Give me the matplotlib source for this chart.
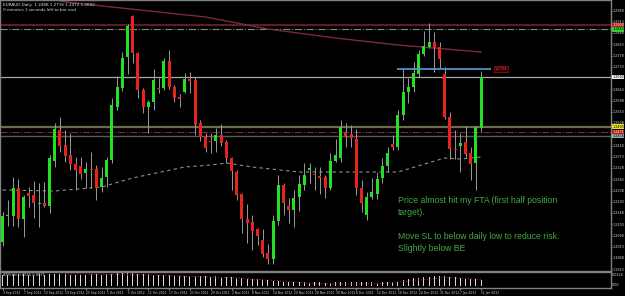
import matplotlib.pyplot as plt
import matplotlib.transforms as mtransforms
from matplotlib.patches import Rectangle

# daily candles, 3 Sep 2012 .. 11 Jan 2013
opens = [1.2032, 1.2136, 1.2136, 1.2248, 1.2124, 1.2228, 1.2220, 1.2184, 1.2188, 1.2176,
         1.2356, 1.2480, 1.2420, 1.2380, 1.2344, 1.2336, 1.2308, 1.2324, 1.2324, 1.2252,
         1.2292, 1.2360, 1.2572, 1.2648, 1.2772, 1.2936, 1.2788, 1.2640, 1.2572, 1.2592,
         1.2648, 1.2648, 1.2756, 1.2652, 1.2612, 1.2632, 1.2684, 1.2680, 1.2508, 1.2452,
         1.2436, 1.2436, 1.2460, 1.2432, 1.2368, 1.2312, 1.2224, 1.2124, 1.2112, 1.2084,
         1.2040, 1.1988, 1.1964, 1.2116, 1.2260, 1.2176, 1.2160, 1.2212, 1.2260, 1.2320,
         1.2304, 1.2296, 1.2292, 1.2248, 1.2356, 1.2368, 1.2472, 1.2464, 1.2444, 1.2248,
         1.2140, 1.2212, 1.2224, 1.2288, 1.2336, 1.2424, 1.2412, 1.2540, 1.2632, 1.2652,
         1.2704, 1.2784, 1.2812, 1.2832, 1.2812, 1.2704, 1.2532, 1.2404, 1.2416, 1.2432,
         1.2388, 1.2348, 1.2488]
highs = [1.2152, 1.2200, 1.2292, 1.2284, 1.2220, 1.2252, 1.2276, 1.2268, 1.2272, 1.2380,
         1.2508, 1.2532, 1.2480, 1.2468, 1.2372, 1.2372, 1.2352, 1.2392, 1.2340, 1.2332,
         1.2372, 1.2608, 1.2696, 1.2792, 1.2904, 1.2940, 1.2792, 1.2648, 1.2600, 1.2724,
         1.2688, 1.2768, 1.2800, 1.2660, 1.2624, 1.2708, 1.2712, 1.2692, 1.2520, 1.2468,
         1.2468, 1.2488, 1.2504, 1.2440, 1.2372, 1.2320, 1.2228, 1.2184, 1.2140, 1.2088,
         1.2084, 1.2024, 1.2140, 1.2300, 1.2268, 1.2208, 1.2240, 1.2300, 1.2348, 1.2348,
         1.2332, 1.2332, 1.2300, 1.2388, 1.2444, 1.2520, 1.2508, 1.2500, 1.2484, 1.2280,
         1.2232, 1.2288, 1.2312, 1.2368, 1.2412, 1.2460, 1.2560, 1.2724, 1.2688, 1.2752,
         1.2800, 1.2876, 1.2908, 1.2872, 1.2832, 1.2732, 1.2552, 1.2480, 1.2468, 1.2496,
         1.2412, 1.2496, 1.2716]
lows = [1.2016, 1.2096, 1.2096, 1.2092, 1.2052, 1.2172, 1.2128, 1.2092, 1.2172, 1.2148,
        1.2332, 1.2392, 1.2352, 1.2320, 1.2240, 1.2284, 1.2248, 1.2248, 1.2200, 1.2232,
        1.2252, 1.2348, 1.2560, 1.2636, 1.2704, 1.2748, 1.2608, 1.2548, 1.2468, 1.2560,
        1.2628, 1.2640, 1.2644, 1.2592, 1.2572, 1.2628, 1.2628, 1.2460, 1.2436, 1.2392,
        1.2388, 1.2392, 1.2416, 1.2348, 1.2240, 1.2200, 1.2068, 1.2028, 1.2000, 1.2020,
        1.1972, 1.1944, 1.1944, 1.2100, 1.2140, 1.2108, 1.2092, 1.2156, 1.2240, 1.2268,
        1.2240, 1.2224, 1.2208, 1.2240, 1.2352, 1.2352, 1.2412, 1.2412, 1.2220, 1.2152,
        1.2120, 1.2204, 1.2204, 1.2268, 1.2312, 1.2400, 1.2400, 1.2520, 1.2588, 1.2632,
        1.2692, 1.2776, 1.2808, 1.2712, 1.2728, 1.2524, 1.2364, 1.2364, 1.2312, 1.2372,
        1.2280, 1.2240, 1.2472]
closes = [1.2136, 1.2140, 1.2248, 1.2124, 1.2212, 1.2216, 1.2188, 1.2188, 1.2176, 1.2368,
          1.2484, 1.2416, 1.2376, 1.2344, 1.2320, 1.2304, 1.2324, 1.2320, 1.2248, 1.2288,
          1.2360, 1.2580, 1.2652, 1.2768, 1.2896, 1.2788, 1.2640, 1.2572, 1.2592, 1.2680,
          1.2644, 1.2756, 1.2652, 1.2608, 1.2604, 1.2684, 1.2676, 1.2500, 1.2452, 1.2408,
          1.2432, 1.2460, 1.2428, 1.2368, 1.2316, 1.2220, 1.2124, 1.2108, 1.2076, 1.2056,
          1.1984, 1.1964, 1.2116, 1.2260, 1.2188, 1.2160, 1.2208, 1.2264, 1.2300, 1.2328,
          1.2300, 1.2288, 1.2248, 1.2356, 1.2380, 1.2492, 1.2456, 1.2448, 1.2248, 1.2188,
          1.2212, 1.2232, 1.2284, 1.2336, 1.2388, 1.2412, 1.2540, 1.2632, 1.2652, 1.2708,
          1.2784, 1.2816, 1.2832, 1.2808, 1.2764, 1.2532, 1.2404, 1.2400, 1.2428, 1.2384,
          1.2344, 1.2492, 1.2692]

date_labels = ["3 Sep 2012", "7 Sep 2012", "13 Sep 2012", "19 Sep 2012", "25 Sep 2012",
               "1 Oct 2012", "5 Oct 2012", "11 Oct 2012", "17 Oct 2012", "23 Oct 2012",
               "29 Oct 2012", "2 Nov 2012", "8 Nov 2012", "14 Nov 2012", "20 Nov 2012",
               "26 Nov 2012", "30 Nov 2012", "6 Dec 2012", "12 Dec 2012", "18 Dec 2012",
               "24 Dec 2012", "31 Dec 2012", "7 Jan 2013", "11 Jan 2013"]
date_label_idx = list(range(0, 93, 4))

# moving averages (bar index, price)
ma_slow_idx = [8, 12, 39, 51, 64, 76, 92]
ma_slow = [1.3012, 1.2992, 1.2932, 1.2884, 1.2848, 1.2820, 1.2792]
ma_fast_idx = [0, 10, 19, 25, 35, 40, 43, 48, 57, 67, 76, 85, 88, 92]
ma_fast = [1.2240, 1.2236, 1.2252, 1.2288, 1.2332, 1.2340, 1.2348, 1.2332,
           1.2312, 1.2312, 1.2312, 1.2368, 1.2364, 1.2372]

# horizontal levels
res_line = 1.2900
res_dash = 1.2883
sup_olive = 1.2493
sup_dash = 1.2471
sup_gray = 1.2456
fta_level = 1.2723

# lower indicator window
ind_vals = [115, 112, 118, 116, 120, 110, 114, 117, 112, 118,
            120, 118, 116, 115, 112, 110, 114, 116, 118, 115,
            120, 125, 128, 130, 126, 128, 124, 120, 118, 115,
            112, 110, 108, 110, 105, 102, 100, 105, 100, 98,
            95, 96, 92, 90, 88, 85, 80, 75, 70, 68,
            62, 58, 55, 50, 45, 42, 40, 38, 36, 35,
            38, 36, 34, 35, 38, 40, 38, 40, 42, 40,
            38, 36, 35, 36, 38, 36, 45, 60, 70, 78,
            85, 92, 95, 98, 100, 102, 95, 88, 80, 75,
            70, 68, 65]
ind_ma_idx = [12, 30, 45, 55, 61, 73, 85, 92]
ind_ma = [122, 108, 80, 45, 20, 25, 85, 68]

bull = "#22e022"
bear = "#e8221c"
wick = "#9a9a9a"
grid = "#808080"

W, H = 625, 296
fig = plt.figure(figsize=(W / 100, H / 100), dpi=100, facecolor="black")
ax = fig.add_axes([0, 1 - 271 / H, 611 / W, 271 / H], facecolor="black")
ind = fig.add_axes([0, 8 / H, 611 / W, 16 / H], facecolor="black", sharex=ax)

# candles
for i, (o, h, l, c) in enumerate(zip(opens, highs, lows, closes)):
    col = bull if c >= o else bear
    ax.vlines(i, l, h, color=wick, lw=0.7, zorder=3)
    body = max(abs(c - o), 0.0004)
    ax.add_patch(Rectangle((i - 0.3, min(o, c)), 0.6, body, fc=col, ec="none", zorder=4))

# lines
ax.axhline(res_line, color="#6b1f2a", lw=1.3, zorder=2)
ax.axhline(res_dash, color="#7f8f80", lw=0.8, ls="-.", zorder=2)
ax.axhline(closes[-1], color="#a8a8a8", lw=0.9, zorder=2)
ax.axhline(sup_olive, color="#6e6a4c", lw=1.6, zorder=2)
ax.axhline(sup_dash, color="#7a2a3a", lw=0.8, ls="-.", zorder=2)
ax.axhline(sup_gray, color="#5a5a5a", lw=1.0, zorder=2)
ax.plot(ma_slow_idx, ma_slow, color="#7a2a3c", lw=1.0, zorder=2)
ax.plot(ma_fast_idx, ma_fast, color="#8a948a", lw=0.8, ls=(0, (3, 3)), zorder=2)
ax.hlines(fta_level, 75.8, 93.9, color="#5a9ad8", lw=1.2, zorder=5)
ax.text(94.7, fta_level, f"{fta_level:.4f}", fontsize=2.6, color="#ff5050", va="center",
        bbox=dict(fc="#300000", ec="#a01010", lw=0.5, pad=0.6), zorder=6)

ax.set_xlim(-2.7 / 5.2, (611 - 2.7) / 5.2)
ax.set_ylim(1.3000 - 0.0004 * 271, 1.3000)

# right price scale
ticks = [1.2958 - 0.0045 * k for k in range(24)]
ax.yaxis.tick_right()
ax.set_yticks(ticks)
ax.set_yticklabels([f"{t:.4f}" for t in ticks])
ax.tick_params(axis="y", labelsize=2.4, colors="#d8d8d8", length=1.0, pad=0.5, width=0.5)
ax.tick_params(axis="x", bottom=False, labelbottom=False)
for s in ax.spines.values():
    s.set_color(grid)
    s.set_linewidth(1.0)

trans = mtransforms.blended_transform_factory(ax.transAxes, ax.transData)
for price, fc, tc in [(res_line, "#c01818", "white"), (res_dash, "#30d030", "black"),
                      (closes[-1], "#f0f0f0", "black"), (sup_olive, "#e8e020", "black"),
                      (sup_dash, "#c01818", "white"), (sup_gray, "#8fb0b0", "black")]:
    ax.text(1.002, price, f"{price:.4f}", transform=trans, fontsize=2.4, color=tc,
            va="center", ha="left", clip_on=False,
            bbox=dict(fc=fc, ec="none", pad=0.3))

# header text
ax.text(0.005, 0.988, f"EURAUD,Daily  {opens[-1]:.4f} {highs[-1]:.4f} {lows[-1]:.4f} {closes[-1]:.4f}",
        transform=ax.transAxes, fontsize=3, color="#e0e0e0", va="top")
ax.text(0.005, 0.97, "0 minutes 1 seconds left to bar end",
        transform=ax.transAxes, fontsize=3, color="#e0e0e0", va="top")

# comment
ax.text(76.0, 1.2214,
        "Price almost hit my FTA (first half position\ntarget).\n\n"
        "Move SL to below daily low to reduce risk.\nSlightly below BE",
        fontsize=6.2, family="Liberation Sans", color="#46a846", va="top",
        linespacing=1.42, zorder=6)

# indicator
ind.bar(range(len(ind_vals)), ind_vals, width=0.22, color="#d8d8d8")
ind.plot(ind_ma_idx, ind_ma, color="#a02828", lw=0.8, ls=":")
ind.set_ylim(-20, 140)
ind.set_yticks([])
ind.text(0.005, 0.95, "ATR(14) 0.0065 0.0071", transform=ind.transAxes,
         fontsize=2.6, color="#d8d8d8", va="top")
ind.text(1.002, 0.92, "0.0124", transform=ind.transAxes, fontsize=2.4, color="#d8d8d8",
         va="top", clip_on=False)
ind.text(1.002, 0.2, "0.00", transform=ind.transAxes, fontsize=2.4, color="#d8d8d8",
         va="center", clip_on=False)
for s in ind.spines.values():
    s.set_color(grid)
    s.set_linewidth(1.0)
ind.set_xticks(date_label_idx)
ind.set_xticklabels(date_labels, ha="left")
ind.tick_params(axis="x", labelsize=2.2, colors="#d8d8d8", length=1.5, pad=0.8, width=0.5)

fig.savefig("out.png", dpi=100, facecolor="black")
